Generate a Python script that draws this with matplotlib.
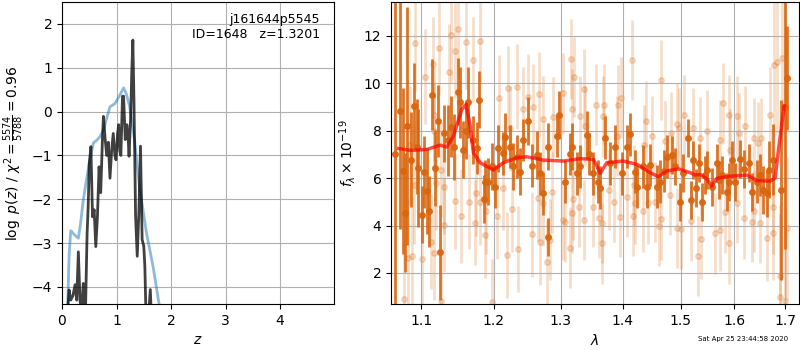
import matplotlib
matplotlib.use('Agg')
import matplotlib.pyplot as plt
from matplotlib.ticker import NullLocator, FixedLocator, FixedFormatter

# --- left panel: redshift fit
z_prior = [0.10, 0.13, 0.16, 0.18, 0.22, 0.30, 0.34, 0.39, 0.45, 0.51, 0.575, 0.64, 0.70,
           0.76, 0.82, 0.88, 0.97, 1.05, 1.13, 1.18, 1.24, 1.33, 1.42, 1.55, 1.67, 1.78, 1.90]
logp_prior = [-4.6, -3.3, -2.72, -2.74, -2.8, -2.89, -2.55, -2.02, -1.55, -1.10, -0.72, -0.65,
              -0.57, -0.42, -0.15, 0.11, 0.18, 0.35, 0.54, 0.40, 0.12, -0.64, -1.70, -2.77,
              -3.53, -4.38, -5.2]

z_chi = [0.10, 0.13, 0.16, 0.20, 0.24, 0.27, 0.30, 0.33, 0.36, 0.39, 0.43, 0.46, 0.48, 0.50,
         0.53, 0.56, 0.59, 0.62, 0.65, 0.68, 0.71, 0.74, 0.76, 0.79, 0.82, 0.85, 0.88, 0.91,
         0.94, 0.97, 0.99, 1.02, 1.04, 1.06, 1.08, 1.11, 1.13, 1.16, 1.19, 1.21, 1.23, 1.26,
         1.28, 1.30, 1.32, 1.35, 1.38, 1.41, 1.44, 1.47, 1.50, 1.52, 1.54, 1.58, 1.62, 1.64, 1.70]
logp_chi = [-4.6, -4.07, -4.3, -4.2, -3.95, -4.3, -3.2, -4.3, -4.6, -3.92, -4.6, -2.8, -2.17,
            -1.2, -0.8, -2.4, -2.24, -3.08, -2.4, -1.26, -1.85, -0.7, -0.11, -0.6, -1.0, -0.7,
            -1.52, -0.9, -0.5, -1.0, -1.1, -0.5, -0.3, -0.9, -1.0, 0.35, 0.35, -0.64, -0.3,
            -0.5, -1.02, -0.11, 0.9, 1.63, 0.27, -2.39, -3.3, -2.31, -0.79, -2.92, -3.07,
            -3.53, -4.6, -4.8, -4.06, -4.7, -5.0]

# --- right panel: spectrum
dark_wave = [1.0655, 1.0720, 1.0763, 1.0794, 1.0816, 1.0872, 1.0902, 1.0948, 1.0965, 1.1013,
             1.1044, 1.1079, 1.1109, 1.1149, 1.1186, 1.1230, 1.1256, 1.1310, 1.1356, 1.1402,
             1.1447, 1.1493, 1.1525, 1.1562, 1.1608, 1.1640,
             1.1709, 1.1756, 1.1793, 1.1861, 1.1875, 1.1922, 1.1970, 1.2017, 1.2065, 1.2137,
             1.2162, 1.2235, 1.2284, 1.2333, 1.2382, 1.2432, 1.2506, 1.2556, 1.2632, 1.2682,
             1.2723, 1.2799, 1.2808,
             1.2937, 1.2973, 1.3067, 1.3145, 1.3172, 1.3251, 1.3303, 1.3410, 1.3447, 1.3507,
             1.3597, 1.3625, 1.3707, 1.3789, 1.3872, 1.3983, 1.4077, 1.4123,
             1.4208, 1.4237, 1.4350, 1.4408, 1.4465, 1.4581, 1.4639, 1.4715, 1.4757, 1.4845,
             1.4904, 1.4993, 1.5052, 1.5143, 1.5187, 1.5234, 1.5278, 1.5343, 1.5393, 1.5449,
             1.5491,
             1.5572, 1.5666, 1.5697, 1.5760, 1.5855, 1.5886, 1.5950, 1.6013, 1.6109, 1.6174,
             1.6271, 1.6336, 1.6434, 1.6499, 1.6564, 1.6631, 1.6683, 1.6764, 1.6919, 1.7000,
             1.7046]
dark_flux = [7.0, 8.84, 6.30, 4.54, 8.2, 6.77, 9.05, 7.33, 6.43, 4.45,
             6.26, 5.46, 4.60, 9.51, 6.43, 8.41, 2.87, 7.89, 7.6, 8.17,
             7.3, 9.65, 9.19, 7.19, 8.0, 9.2,
             7.6, 7.26, 9.3, 5.12, 5.85, 5.85, 6.5, 5.64, 7.26, 7.05,
             7.75, 7.33, 6.49, 6.9, 6.27, 7.61, 8.41, 6.53, 6.98, 6.2,
             5.36, 3.51, 7.33,
             7.78, 8.67, 5.85, 7.02, 7.33, 6.2, 6.49, 7.82, 7.02, 6.2,
             5.85, 5.6, 7.7, 6.63, 7.33, 6.2, 7.33, 7.85,
             6.27, 5.64, 6.49, 5.64, 6.56, 5.64, 5.85, 6.3, 6.91, 6.98,
             6.49, 5.01, 6.2, 7.68, 5.08, 6.77, 5.57, 6.65, 5.0, 6.13,
             6.34,
             5.64, 6.63, 5.92, 6.13, 5.43, 5.85, 6.77, 5.85, 6.8, 6.37,
             6.63, 5.43, 5.85, 6.13, 5.5, 5.36, 6.35, 6.77, 5.5, 9.0,
             10.22]
dark_err = [7.0, 5.0, 3.5, 2.5, 5.0, 2.0, 1.8, 2.0, 2.5, 1.2,
            1.5, 1.8, 1.5, 1.5, 1.6, 1.5, 2.0, 1.2, 1.5, 1.3,
            1.4, 1.4, 1.5, 1.2, 1.2, 1.5,
            1.0, 1.1, 1.2, 1.0, 0.9, 1.0, 1.0, 0.9, 1.0, 0.9,
            1.0, 0.9, 1.0, 0.9, 1.0, 0.9, 1.0, 0.9, 1.0, 0.9,
            0.9, 0.8, 1.0,
            0.9, 1.0, 0.9, 0.9, 1.0, 0.9, 0.9, 1.0, 0.9, 0.9,
            0.9, 0.9, 0.9, 0.9, 0.9, 0.9, 0.9, 0.9,
            0.9, 0.9, 0.9, 0.9, 0.9, 0.9, 0.9, 0.9, 0.9, 0.8,
            0.8, 0.8, 0.8, 0.8, 0.8, 0.8, 0.8, 0.8, 0.8, 0.8,
            0.8,
            0.8, 0.8, 0.8, 0.8, 0.8, 0.8, 0.8, 0.8, 0.8, 0.8,
            0.8, 0.8, 0.9, 0.9, 1.0, 1.0, 1.2, 1.5, 3.8, 6.0,
            2.2]

light_wave = [1.0771, 1.0828, 1.0850, 1.0880, 1.0902, 1.0915, 1.1009, 1.1057, 1.1133, 1.1155,
              1.1168, 1.1176, 1.1176, 1.1199, 1.1243, 1.1266, 1.1266, 1.1310, 1.1310, 1.1371,
              1.1402, 1.1460, 1.1460, 1.1501, 1.1538, 1.1608, 1.1654,
              1.1709, 1.1733, 1.1747, 1.1804, 1.1804, 1.1875, 1.1889, 1.1970, 1.2041, 1.2075,
              1.2127, 1.2186, 1.2210, 1.2235, 1.2260, 1.2342, 1.2357, 1.2432, 1.2506, 1.2556,
              1.2581, 1.2656, 1.2667, 1.2682, 1.2732, 1.2732, 1.2790,
              1.2834, 1.2870, 1.2885, 1.3030, 1.3041, 1.3067, 1.3145, 1.3161, 1.3181, 1.3181,
              1.3196, 1.3208, 1.3293, 1.3303, 1.3372, 1.3372, 1.3383, 1.3507, 1.3560, 1.3614,
              1.3653, 1.3653, 1.3680, 1.3690, 1.3778, 1.3855, 1.3900, 1.3927, 1.3955, 1.3967,
              1.4067,
              1.4151, 1.4168, 1.4180, 1.4208, 1.4350, 1.4367, 1.4396, 1.4436, 1.4505, 1.4552,
              1.4622, 1.4657, 1.4657, 1.4727, 1.4815, 1.4827, 1.4934, 1.4934, 1.4981, 1.5011,
              1.5070, 1.5192, 1.5234, 1.5314, 1.5356, 1.5369, 1.5480,
              1.5635, 1.5728, 1.5728, 1.5791, 1.5823, 1.5886, 1.5886, 1.5918, 1.6045, 1.6045,
              1.6096, 1.6174, 1.6206, 1.6336, 1.6368, 1.6368, 1.6466, 1.6499, 1.6512, 1.6631,
              1.6698, 1.6764, 1.6764, 1.6784, 1.6831, 1.6885, 1.6899, 1.6933, 1.7000, 1.7046]
light_flux = [0.9, 2.63, 7.4, 2.7, 5.71, 11.69, 2.59, 10.27, 3.32, 10.8,
              8.67, 8.0, 2.84, 5.8, 11.5, 6.35, 0.82, 5.64, 4.02, 10.48,
              12.04, 11.38, 5.03, 12.3, 4.40, 11.75, 5.0,
              10.99, 4.12, 5.36, 11.79, 5.0, 3.6, 4.62, 0.79, 4.4, 9.4,
              5.6, 2.76, 9.79, 8.1, 4.69, 9.86, 3.01, 8.9, 9.44, 3.63,
              9.0, 5.15, 9.54, 3.3, 8.5, 4.95, 2.45,
              3.4, 5.4, 8.57, 9.58, 4.24, 4.17, 3.07, 11.02, 8.92, 4.54,
              5.1, 10.27, 4.8, 8.6, 9.75, 4.24, 8.2, 4.8, 9.1, 4.33,
              4.1, 3.25, 8.6, 9.1, 5.5, 5.0, 7.77, 9.09, 4.36, 9.4,
              5.2,
              10.99, 4.4, 5.7, 4.94, 4.6, 7.4, 8.4, 4.94, 7.77, 5.0,
              3.98, 10.14, 4.26, 7.57, 5.3, 7.92, 8.3, 3.89, 8.1, 3.85,
              8.67, 4.19, 8.1, 2.72, 7.71, 3.43, 8.0,
              3.67, 7.6, 3.8, 9.16, 4.55, 8.67, 3.25, 7.2, 8.6, 4.95,
              7.9, 4.3, 8.2, 4.15, 7.7, 4.6, 7.5, 4.1, 7.7, 3.46,
              8.67, 3.7, 4.8, 10.78, 10.9, 1.87, 1.0, 11.06, 0.8, 3.89]
light_err = [2.5, 2.5, 2.5, 2.5, 2.5, 2.0, 2.0, 2.0, 2.0, 2.0,
             2.0, 2.0, 2.0, 2.0, 2.0, 2.0, 2.0, 2.0, 2.0, 2.0,
             2.0, 2.0, 2.0, 2.0, 2.0, 2.0, 2.0,
             1.8, 1.8, 1.8, 1.8, 1.8, 1.8, 1.8, 1.8, 1.8, 1.8,
             1.8, 1.8, 1.8, 1.8, 1.8, 1.8, 1.8, 1.8, 1.8, 1.8,
             1.8, 1.8, 1.8, 1.8, 1.8, 1.8, 1.8,
             1.7, 1.7, 1.7, 1.7, 1.7, 1.7, 1.7, 1.7, 1.7, 1.7,
             1.7, 1.7, 1.7, 1.7, 1.7, 1.7, 1.7, 1.7, 1.7, 1.7,
             1.7, 1.7, 1.7, 1.7, 1.7, 1.7, 1.7, 1.7, 1.7, 1.7,
             1.7,
             1.7, 1.7, 1.7, 1.7, 1.7, 1.7, 1.7, 1.7, 1.7, 1.7,
             1.7, 1.7, 1.7, 1.7, 1.7, 1.7, 1.7, 1.7, 1.7, 1.7,
             1.7, 1.7, 1.7, 1.7, 1.7, 1.7, 1.7,
             1.7, 1.7, 1.7, 1.7, 1.7, 1.7, 1.7, 1.7, 1.7, 1.7,
             1.7, 1.7, 1.7, 1.7, 1.7, 1.7, 1.7, 1.7, 1.7, 1.8,
             2.0, 2.0, 2.0, 3.0, 3.0, 3.0, 3.5, 3.5, 4.0, 3.0]

model_wave = [1.0707, 1.0859, 1.1075, 1.1253, 1.1343, 1.1433, 1.1548, 1.1608, 1.1663, 1.1709,
              1.1804, 1.1993, 1.2137, 1.2333, 1.2481, 1.2732, 1.3040, 1.3303, 1.3516, 1.3571,
              1.3625, 1.3735, 1.4010, 1.4237, 1.4465, 1.4609, 1.4757, 1.4963, 1.5174, 1.5265,
              1.5356, 1.5480, 1.5572, 1.5666, 1.5918, 1.6239, 1.6434, 1.6698, 1.6798, 1.6865,
              1.6980]
model_flux = [7.25, 7.17, 7.21, 7.39, 7.31, 7.77, 8.90, 9.11, 8.20, 7.07,
              6.65, 6.34, 6.65, 6.86, 6.90, 6.76, 6.72, 6.82, 6.79, 6.51,
              6.20, 6.65, 6.72, 6.58, 6.23, 6.06, 6.30, 6.39, 6.23, 6.13,
              6.15, 5.97, 5.66, 5.99, 6.08, 6.13, 5.90, 5.87, 6.01, 7.21,
              9.04]

wave_ticks = [1.1, 1.2, 1.3, 1.4, 1.5, 1.6, 1.7]
orange = (0.85, 0.4, 0.06)

fig = plt.figure(figsize=(8, 3.5), dpi=100)

ax = fig.add_axes([0.0775, 0.1314, 0.34, 0.863])
ax.plot(z_prior, logp_prior, color='C0', alpha=0.5, lw=2)
ax.plot(z_chi, logp_chi, color='k', alpha=0.75, lw=2)
ax.set_xlim(0, 4.99)
ax.set_ylim(-4.39, 2.5)
ax.set_xticks([0, 1, 2, 3, 4])
ax.set_yticks([-4, -3, -2, -1, 0, 1, 2])
ax.set_xlabel('$z$')
ax.set_ylabel(r'$\log\ p(z)$ / $\chi^2=\frac{5574}{5788}=0.96$')
ax.text(0.948, 0.965, 'j161644p5545\nID=1648   z=1.3201', transform=ax.transAxes,
        ha='right', va='top', fontsize=9)
ax.grid()

ax2 = fig.add_axes([0.489, 0.1314, 0.5095, 0.863])
ax2.errorbar(light_wave, light_flux, light_err, fmt='o', color=orange, alpha=0.22,
             ms=4, elinewidth=2, zorder=1)
ax2.errorbar(dark_wave, dark_flux, dark_err, fmt='o', color=orange, alpha=0.9,
             ms=4, elinewidth=2, zorder=2)
ax2.plot(model_wave, model_flux, color='r', alpha=0.7, lw=2.5, zorder=3)
ax2.set_xscale('log')
ax2.xaxis.set_major_locator(FixedLocator(wave_ticks))
ax2.xaxis.set_major_formatter(FixedFormatter(['%.1f' % w for w in wave_ticks]))
ax2.xaxis.set_minor_locator(NullLocator())
ax2.set_xlim(1.0613, 1.7279)
ax2.set_ylim(0.69, 13.43)
ax2.set_yticks([2, 4, 6, 8, 10, 12])
ax2.set_xlabel(r'$\lambda$')
ax2.set_ylabel(r'$f_\lambda \times 10^{-19}$')
ax2.grid()

fig.text(0.985, 0.031, 'Sat Apr 25 23:44:58 2020', ha='right', va='center', fontsize=5)

fig.savefig('out.png', dpi=100)
